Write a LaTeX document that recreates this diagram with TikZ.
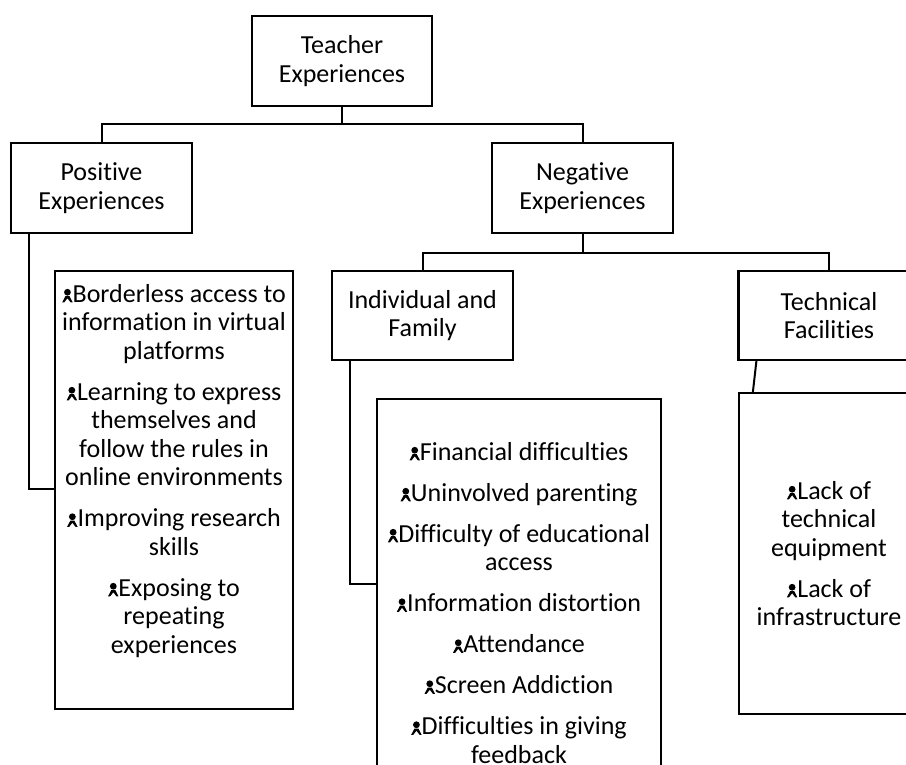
\documentclass[tikz,border=0pt]{standalone}
\usepackage{fontspec}
\setmainfont{Carlito}[Ligatures={NoCommon}]
\newcommand\pbul{\tikz[baseline=0pt,x=1pt,y=1pt]{\fill (0,10) circle (3.4);\fill (-2,6.2) -- (2,6.2) -- (5.2,0) -- (3.1,0) -- (0,4) -- (-3.1,0) -- (-5.2,0) -- cycle;}}
\tikzset{
  hbox/.style={draw, line width=2.2pt, minimum width=181pt, minimum height=90pt, inner sep=0pt, align=center, font=\fontsize{26}{28.5}\selectfont},
  lbox/.style={draw, line width=2.2pt, inner sep=0pt},
  ltext/.style={anchor=north, inner sep=0pt, align=center, font=\fontsize{26}{28.5}\selectfont},
  conn/.style={line width=2pt}
}
\begin{document}
\begin{tikzpicture}[x=1pt,y=-1pt]
\useasboundingbox (0,0) rectangle (906,765);
\clip (0,0) rectangle (906,765);
% header boxes
\node[hbox, minimum width=180pt] (teacher) at (342,61) {Teacher\\Experiences};
\node[hbox] (positive) at (101.5,188) {Positive\\Experiences};
\node[hbox] (negative) at (582.5,188) {Negative\\Experiences};
\node[hbox, minimum height=89pt] (individual) at (422.5,315.5) {Individual and\\Family};
\node[hbox, minimum height=89pt] (technical) at (829,315.5) {Technical\\Facilities};
% list boxes
\node[lbox, minimum width=238pt, minimum height=438pt] (poslist) at (174,490) {};
\node[lbox, minimum width=284pt, minimum height=401pt] (indlist) at (519,599.5) {};
\node[lbox, minimum width=180pt, minimum height=321pt] (techlist) at (829,553.5) {};
% list texts
\node[ltext] (postext) at (174,284) {\pbul Borderless access to\\information in virtual\\platforms\\[12.5pt]\pbul Learning to express\\themselves and\\follow the rules in\\online environments\\[12.5pt]\pbul Improving research\\skills\\[12.5pt]\pbul Exposing to\\repeating\\experiences};
\node[ltext] (indtext) at (519,442) {\pbul Financial difficulties\\[12.5pt]\pbul Uninvolved parenting\\[12.5pt]\pbul Difficulty of educational\\access\\[12.5pt]\pbul Information distortion\\[12.5pt]\pbul Attendance\\[12.5pt]\pbul Screen Addiction\\[12.5pt]\pbul Difficulties in giving\\feedback};
\node[ltext] (techtext) at (829,481) {\pbul Lack of\\technical\\equipment\\[12.5pt]\pbul Lack of\\infrastructure};
% connectors
\coordinate (j1) at (342,124);
\coordinate (j2) at (582.5,253);
\draw[conn] (teacher.south) -- (j1);
\draw[conn] (positive.north) |- (j1) -| (negative.north);
\draw[conn] (negative.south) -- (j2);
\draw[conn] (individual.north) |- (j2) -| (technical.north);
\draw[conn] ([xshift=19pt]positive.south west) |- ([yshift=1pt]poslist.west);
\draw[conn] ([xshift=19pt]individual.south west) |- ([yshift=15.5pt]indlist.west);
\draw[conn] ([xshift=19pt]technical.south west) -- ([xshift=15pt]techlist.north west);
\end{tikzpicture}
\end{document}
